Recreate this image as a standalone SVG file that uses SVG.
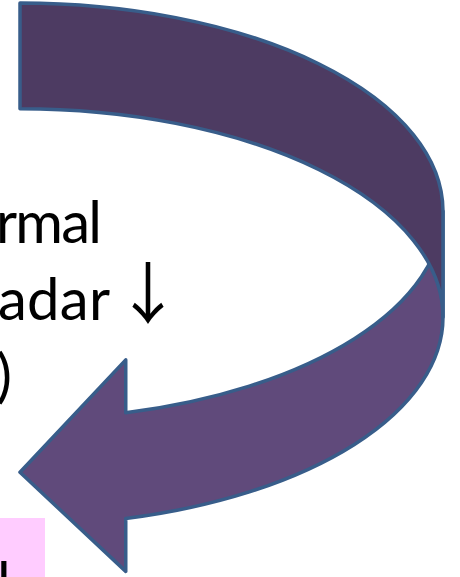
<svg xmlns="http://www.w3.org/2000/svg" width="460" height="577" viewBox="0 0 460 577">
  <style>
    .txt { font-family: Lato, "Open Sans", "Liberation Sans", sans-serif; font-size: 58px; fill: #000000; }
    .sym { font-family: "Noto Sans CJK JP", "DejaVu Sans", sans-serif; font-size: 67px; fill: #000000; }
    .light { fill: #604A7B; stroke: #385D8A; stroke-width: 3.5; stroke-linejoin: round; }
    .dark { fill: #4D3B62; stroke: #385D8A; stroke-width: 3.5; stroke-linejoin: round; }
    .box { fill: #FFCCFF; }
  </style>
  <rect width="460" height="577" fill="#ffffff"/>

  <g id="pink-box">
    <rect class="box" x="0" y="518" width="45" height="59"/>
    <text class="txt" x="-3" y="604">l</text>
  </g>

  <g id="label-text">
    <text class="txt" x="-4" y="243" textLength="106">rmal</text>
    <text class="txt" x="-2" y="320" textLength="112">adar</text>
    <text class="sym" x="148" y="318" text-anchor="middle">↓</text>
    <text class="txt" x="12" y="396" text-anchor="end">)</text>
  </g>

  <g id="curved-arrow">
    <path class="light" d="M443,211.19 A423,208.19 0 0 1 125.75,412.77 L125.75,359.87 L20,472.25 L125.75,571.4 L125.75,518.52 A423,208.19 0 0 0 443,316.94 Z"/>
    <path class="dark" d="M20,3 A423,208.19 0 0 1 443,211.19 L443,316.94 A423,208.19 0 0 0 20,108.75 Z"/>
  </g>
</svg>
